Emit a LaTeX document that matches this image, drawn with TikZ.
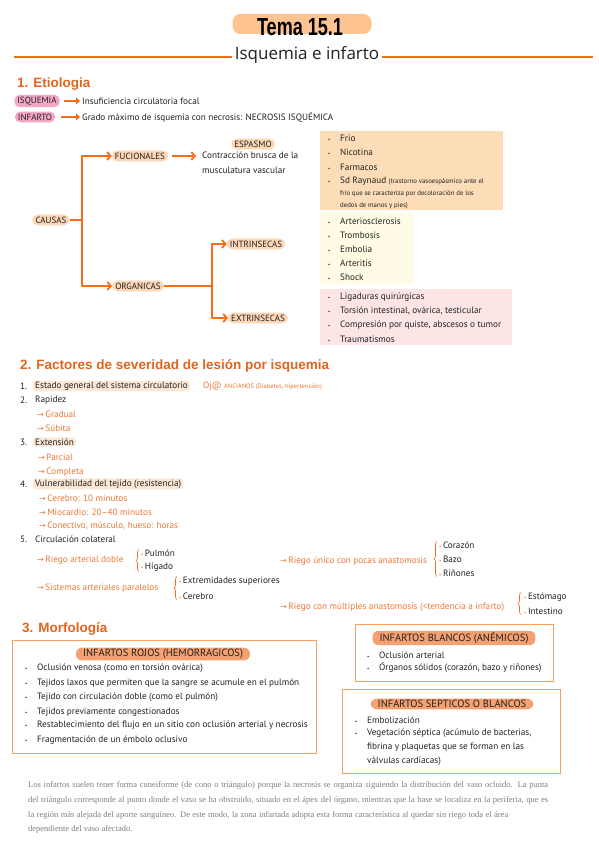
\documentclass[tikz,border=0pt]{standalone}
\usepackage{graphicx}
\usepackage{fontspec}
\setmainfont{PT Sans}
\newfontfamily\fuenteTitulo{Liberation Sans}
\newfontfamily\fuenteSub{Open Sans}
\newfontfamily\fuenteNota{Liberation Serif}
\newfontfamily\fuenteSimb{DejaVu Sans}
\usetikzlibrary{arrows.meta, positioning, calc, decorations.pathreplacing}
\definecolor{naranja}{RGB}{247,108,26}
\definecolor{tituloSec}{RGB}{226,100,30}
\definecolor{textoNar}{RGB}{236,120,52}
\definecolor{melocoton}{RGB}{253,196,146}
\definecolor{melocotonClaro}{RGB}{253,214,182}
\definecolor{rosaPill}{RGB}{243,166,198}
\definecolor{cajaMel}{RGB}{253,221,183}
\definecolor{cajaAma}{RGB}{255,251,228}
\definecolor{cajaRosa}{RGB}{253,229,229}
\definecolor{bordeMorf}{RGB}{246,160,98}
\definecolor{pillMorf}{RGB}{245,160,112}
\definecolor{resalte}{RGB}{252,230,212}
\definecolor{grisNota}{gray}{0.5}
\definecolor{tinta}{gray}{0.13}
\newcommand{\flecha}{{\fuenteSimb\fontsize{8}{6}\selectfont →}\,}
\newcommand{\vineta}{\makebox[12pt][l]{\fontsize{5}{5}\selectfont\textbullet}}
\newcommand{\vinetaNar}{{\color{naranja}\fontsize{5}{5}\selectfont\textbullet}\,}

\begin{document}
\begin{tikzpicture}[
  x=1pt, y=-1pt,
  font=\fontsize{9.2}{10}\selectfont,
  pastilla/.style={fill=melocotonClaro, rounded corners=5pt, inner xsep=3pt,
                   inner ysep=2pt, text=tinta, font=\fontsize{9}{9}\selectfont},
  pastillaRosa/.style={pastilla, fill=rosaPill},
  pastillaMorf/.style={pastilla, fill=pillMorf, rounded corners=6pt, inner xsep=7pt,
                       inner ysep=1.5pt, font=\fontsize{10.5}{10}\selectfont},
  rama/.style={draw=naranja, line width=1.8pt, line join=round,
               -{Straight Barb[length=3.5pt, width=8pt]}},
  tramo/.style={draw=naranja, line width=1.8pt},
  flechaDef/.style={draw=naranja, line width=2.2pt, -{Triangle[length=4pt, width=7pt]}},
  texto/.style={anchor=west, inner sep=0pt, text=tinta},
  textoNar/.style={texto, text=textoNar},
  resaltado/.style={fill=resalte, rounded corners=3pt, inner xsep=2pt, inner ysep=1pt},
  caja/.style={anchor=north west, inner sep=0pt},
  marco/.style={draw=bordeMorf, line width=1.2pt, anchor=north west, inner sep=0pt},
  llave/.style={draw=naranja, line width=0.6pt, decorate,
                decoration={brace, amplitude=3pt, mirror}},
  encabezado/.style={anchor=west, inner sep=0pt, text=tituloSec,
                     font=\fuenteTitulo\bfseries\fontsize{13.5}{14}\selectfont},
  nota/.style={texto, text=grisNota, font=\fuenteNota\fontsize{8.5}{9}\selectfont}
]
\useasboundingbox (0,0) rectangle (599,848);
\fill[white] (0,0) rectangle (599,848);

% Cabecera del tema
\node[fill=melocoton, rounded corners=8pt, minimum width=139pt, minimum height=20pt,
      inner sep=0pt] (pildora) at (302,24) {};
\node[inner sep=0pt, text=black, font=\fuenteTitulo\bfseries\fontsize{19}{19}\selectfont]
  (tema) at (300,27) {\scalebox{0.95}[1.3]{Tema 15.1}};
\node[inner sep=3pt, text=tinta, font=\fuenteSub\fontsize{17}{17}\selectfont]
  (sub) at (307,55) {Isquemia e infarto};
\coordinate (lineaIzq) at (14,57);
\coordinate (lineaDer) at (593,57);
\draw[naranja, line width=2pt] (lineaIzq) -- (lineaIzq -| sub.west);
\draw[naranja, line width=2pt] (sub.east |- lineaDer) -- (lineaDer);

% 1. Etiologia
\node[encabezado] (sec1) at (17,84) {1. Etiologia};
\node[pastillaRosa] (isquemia) at (37,101) {ISQUEMIA};
\node[texto] (focal) at (82,101) {Insuficiencia circulatoria focal};
\draw[flechaDef, shorten <=4pt, shorten >=2pt] (isquemia) -- (focal);
\node[pastillaRosa] (infarto) at (35,117) {INFARTO};
\node[texto] (grado) at (82,117) {Grado máximo de isquemia con necrosis: NECROSIS ISQUÉMICA};
\draw[flechaDef, shorten <=6pt, shorten >=2pt] (infarto) -- (grado);

% Mapa de causas
\node[pastilla] (causas) at (51,220) {CAUSAS};
\node[pastilla] (fucionales) at (140,156) {FUCIONALES};
\node[pastilla] (organicas) at (138,286) {ORGANICAS};
\coordinate (bifA) at (82,220);
\draw[tramo] (causas) -- (bifA);
\draw[rama] (bifA) |- (fucionales);
\draw[rama] (bifA) |- (organicas);

\node[pastilla] (espasmo) at (253,144) {ESPASMO};
\node[texto, anchor=north west, align=left, font=\fontsize{9.2}{15}\selectfont]
  (contraccion) at (202,152) {Contracción brusca de la\\ musculatura vascular};
\draw[rama, shorten <=4pt, shorten >=6pt] (fucionales.east) -- (fucionales.east -| contraccion.west);

\node[pastilla] (intrinsecas) at (256,244) {INTRINSECAS};
\node[pastilla] (extrinsecas) at (258,318) {EXTRINSECAS};
\coordinate (bifB) at (212,286);
\draw[tramo] (organicas) -- (bifB);
\draw[rama] (bifB) |- (intrinsecas);
\draw[rama] (bifB) |- (extrinsecas);

% Listas de causas
\node[caja, fill=cajaMel, minimum width=183pt, minimum height=79pt] (frios) at (320,131) {};
\node[texto] (frio) at (328,138) {\vineta Frio};
\node[texto] (nicotina) at (328,152) {\vineta Nicotina};
\node[texto] (farmacos) at (328,167) {\vineta Farmacos};
\node[texto] (raynaud) at (328,181) {\vineta Sd Raynaud {\fontsize{6.8}{7}\selectfont (trastorno vasoespásmico ante el}};
\node[texto, font=\fontsize{6.8}{7}\selectfont] (raynaudB) at (340,194) {frío que se caracteriza por decoloración de los};
\node[texto, font=\fontsize{6.8}{7}\selectfont] (raynaudC) at (340,206) {dedos de manos y pies)};

\node[caja, fill=cajaAma, minimum width=93pt, minimum height=71pt] (intrin) at (320,213) {};
\node[texto] (arterio) at (328,221) {\vineta Arteriosclerosis};
\node[texto] (trombosis) at (328,235) {\vineta Trombosis};
\node[texto] (embolia) at (328,249) {\vineta Embolia};
\node[texto] (arteritis) at (328,263) {\vineta Arteritis};
\node[texto] (shock) at (328,277) {\vineta Shock};

\node[caja, fill=cajaRosa, minimum width=192pt, minimum height=56pt] (extrin) at (320,289) {};
\node[texto] (ligaduras) at (328,297) {\vineta Ligaduras quirúrgicas};
\node[texto] (torsion) at (328,311) {\vineta Torsión intestinal, ovárica, testicular};
\node[texto] (compresion) at (328,325) {\vineta Compresión por quiste, abscesos o tumor};
\node[texto] (trauma) at (328,339) {\vineta Traumatismos};

% 2. Factores de severidad
\node[encabezado] (sec2) at (20,366) {2. Factores de severidad de lesión por isquemia};
\node[texto] (n1) at (20,386) {1.};
\node[texto, resaltado] (estado) at (33,386) {Estado general del sistema circulatorio};
\node[textoNar] (ojo) at (203,386) {Oj@ {\fontsize{6.5}{7}\selectfont ANCIANOS (Diabetes, hipertensión)}};
\node[texto] (n2) at (20,400) {2.};
\node[texto] (rapidez) at (35,400) {Rapidez};
\node[textoNar] (gradual) at (37,414) {\flecha Gradual};
\node[textoNar] (subita) at (37,428) {\flecha Súbita};
\node[texto] (n3) at (20,442) {3.};
\node[texto, resaltado] (extension) at (33,442) {Extensión};
\node[textoNar] (parcial) at (38,457) {\flecha Parcial};
\node[textoNar] (completa) at (38,472) {\flecha Completa};
\node[texto] (n4) at (20,484) {4.};
\node[texto, resaltado] (vulnerab) at (33,484) {Vulnerabilidad del tejido (resistencia)};
\node[textoNar] (cerebro) at (39,498) {\flecha Cerebro: 10 minutos};
\node[textoNar] (miocardio) at (39,512) {\flecha Miocardio: 20--40 minutos};
\node[textoNar] (conectivo) at (39,526) {\flecha Conectivo, músculo, hueso: horas};
\node[texto] (n5) at (20,539) {5.};
\node[texto] (circulacion) at (35,539) {Circulación colateral};

% Tipos de riego
\node[textoNar] (doble) at (37,560) {\flecha Riego arterial doble};
\node[texto] (pulmon) at (141,553) {\vinetaNar Pulmón};
\node[texto] (higado) at (141,567) {\vinetaNar Hígado};
\draw[llave] ([xshift=-2pt]pulmon.north west) -- ([xshift=-2pt]higado.south west);

\node[textoNar] (paralelos) at (37,588) {\flecha Sistemas arteriales paralelos};
\node[texto] (extrem) at (179,581) {\vinetaNar Extremidades superiores};
\node[texto] (cerebroB) at (179,596) {\vinetaNar Cerebro};
\draw[llave] ([xshift=-2pt]extrem.north west) -- ([xshift=-2pt]cerebroB.south west);

\node[textoNar] (unico) at (280,561) {\flecha Riego único con pocas anastomosis};
\node[texto] (corazon) at (439,545) {\vinetaNar Corazón};
\node[texto] (bazo) at (439,559) {\vinetaNar Bazo};
\node[texto] (rinones) at (439,573) {\vinetaNar Riñones};
\draw[llave] ([xshift=-2pt]corazon.north west) -- ([xshift=-2pt]rinones.south west);

\node[textoNar] (multiples) at (280,607) {\flecha Riego con múltiples anastomosis (<tendencia a infarto)};
\node[texto] (estomago) at (524,597) {\vinetaNar Estómago};
\node[texto] (intestino) at (524,611) {\vinetaNar Intestino};
\draw[llave] ([xshift=-3pt]estomago.north west) -- ([xshift=-3pt]intestino.south west);

% 3. Morfologia
\node[encabezado] (sec3) at (22,629) {3. Morfología};
\node[marco, minimum width=304pt, minimum height=113pt] (rojos) at (12,640) {};
\node[pastillaMorf] (tituloRojos) at (163,654) {INFARTOS ROJOS (HEMORRAGICOS)};
\node[texto] (r1) at (25,668) {\vineta Oclusión venosa (como en torsión ovárica)};
\node[texto] (r2) at (25,683) {\vineta Tejidos laxos que permiten que la sangre se acumule en el pulmón};
\node[texto] (r3) at (25,697) {\vineta Tejido con circulación doble (como el pulmón)};
\node[texto] (r4) at (25,712) {\vineta Tejidos previamente congestionados};
\node[texto] (r5) at (25,725) {\vineta Restablecimiento del flujo en un sitio con oclusión arterial y necrosis};
\node[texto] (r6) at (25,740) {\vineta Fragmentación de un émbolo oclusivo};

\node[marco, minimum width=198pt, minimum height=57pt] (blancos) at (355,624) {};
\node[pastillaMorf] (tituloBlancos) at (454,638) {INFARTOS BLANCOS (ANÉMICOS)};
\node[texto] (b1) at (367,655) {\vineta Oclusión arterial};
\node[texto] (b2) at (367,668) {\vineta Órganos sólidos (corazón, bazo y riñones)};

\node[marco, minimum width=218pt, minimum height=84pt] (septicos) at (342,689) {};
\node[pastillaMorf] (tituloSepticos) at (452,704) {INFARTOS SEPTICOS O BLANCOS};
\node[texto] (s1) at (355,720) {\vineta Embolización};
\node[texto] (s2) at (355,733) {\vineta Vegetación séptica (acúmulo de bacterias,};
\node[texto] (s3) at (367,747) {fibrina y plaquetas que se forman en las};
\node[texto] (s4) at (367,761) {válvulas cardíacas)};

% Nota final sobre la forma del infarto
\node[nota] (notaA) at (28,785)
  {\makebox[520pt][s]{Los infartos suelen tener forma cuneiforme (de cono o triángulo) porque la necrosis se organiza siguiendo la distribución del vaso ocluido. La punta}};
\node[nota] (notaB) at (28,800)
  {\makebox[520pt][s]{del triángulo corresponde al punto donde el vaso se ha obstruido, situado en el ápex del órgano, mientras que la base se localiza en la periferia, que es}};
\node[nota] (notaC) at (28,815)
  {\makebox[480pt][s]{la región más alejada del aporte sanguíneo. De este modo, la zona infartada adopta esta forma característica al quedar sin riego toda el área}};
\node[nota] (notaD) at (28,829) {dependiente del vaso afectado.};

\end{tikzpicture}
\end{document}
